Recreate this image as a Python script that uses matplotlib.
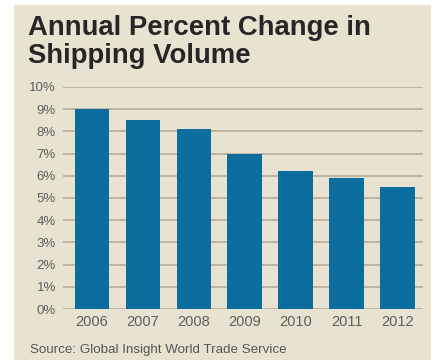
import matplotlib.pyplot as plt
from matplotlib.patches import Rectangle

# data
years = ['2006', '2007', '2008', '2009', '2010', '2011', '2012']
change = [9.0, 8.5, 8.1, 7.0, 6.2, 5.9, 5.5]
yticks = list(range(0, 11))

plt.rcParams['font.family'] = ['Liberation Sans', 'DejaVu Sans']

fig = plt.figure(figsize=(4.37, 3.64), dpi=100)

# beige panel behind everything
fig.patches.append(Rectangle((14 / 437, 1 - 360 / 364), 417 / 437, 355 / 364,
                             transform=fig.transFigure, facecolor='#e8e3d1',
                             edgecolor='none', zorder=-5))

ax = fig.add_axes([63 / 437, 1 - 309 / 364, 360 / 437, 222 / 364])
ax.set_facecolor('none')
x = range(len(years))
ax.bar(x, change, width=0.68, color='#0b6e9e', zorder=3)

ax.set_xlim(-0.57, 6.5)
ax.set_ylim(0, 10)
ax.set_yticks(yticks)
ax.set_yticklabels([f'{v}%' for v in yticks])
ax.set_xticks(list(x))
ax.set_xticklabels(years)
ax.grid(axis='y', color='#b9b19e', linewidth=1.3, zorder=1)
ax.tick_params(length=0, colors='#5e5e5e')
ax.tick_params(axis='y', pad=5, labelsize=9.5)
ax.tick_params(axis='x', pad=4, labelsize=10.5)
for s in ax.spines.values():
    s.set_visible(False)

fig.text(28 / 437, 1 - 35 / 364, 'Annual Percent Change in', fontsize=19.8,
         fontweight='bold', color='#262626', va='baseline')
fig.text(28 / 437, 1 - 63 / 364, 'Shipping Volume', fontsize=19.8,
         fontweight='bold', color='#262626', va='baseline')
fig.text(30 / 437, 1 - 350 / 364, 'Source: Global Insight World Trade Service',
         fontsize=9.6, color='#555555', va='center')

fig.savefig('out.png', dpi=100)
